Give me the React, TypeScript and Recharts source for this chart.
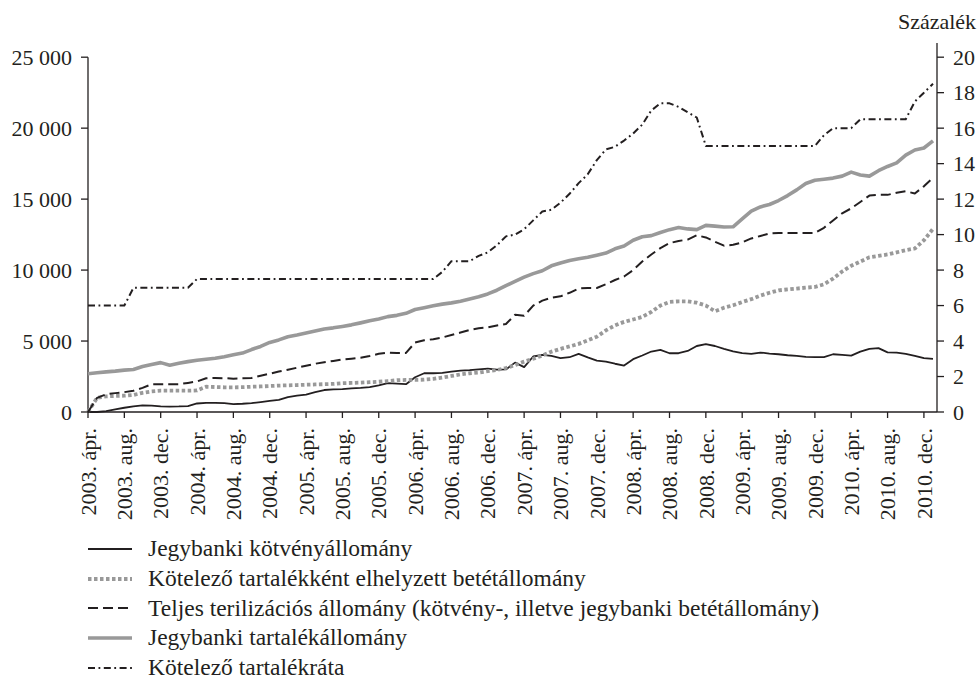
import React from "react";
import { LineChart, Line, XAxis, YAxis, Legend, ReferenceLine } from "recharts";

// hónapok: 2003. ápr. – 2011. jan.
const monthNames = ["jan.", "febr.", "márc.", "ápr.", "máj.", "jún.", "júl.", "aug.", "szept.", "okt.", "nov.", "dec."];
const firstYear = 2003;
const firstMonth = 3;
const monthCount = 94;

const months: string[] = [];
for (let i = 0; i < monthCount; i++) {
	const m = firstMonth + i;
	months.push(`${firstYear + Math.floor(m / 12)}. ${monthNames[m % 12]}`);
}

// Jegybanki kötvényállomány (mrd)
const bondStock = [
	0, 0, 60, 180, 300, 400, 470, 450, 400, 380,
	390, 420, 600, 640, 640, 620, 560, 580, 620, 700,
	780, 860, 1050, 1150, 1230, 1400, 1550, 1600, 1610, 1660,
	1700, 1760, 1880, 2030, 2000, 1960, 2450, 2730, 2730, 2760,
	2850, 2920, 2950, 3000, 3060, 2980, 3000, 3480, 3160, 3910,
	4030, 3950, 3790, 3860, 4100, 3850, 3620, 3550, 3400, 3270,
	3720, 3980, 4260, 4380, 4140, 4140, 4300, 4650, 4780, 4650,
	4450, 4280, 4150, 4100, 4190, 4120, 4070, 4000, 3950, 3880,
	3860, 3870, 4070, 4020, 3970, 4250, 4450, 4500, 4200, 4180,
	4100, 3950, 3790, 3750,
];

// Kötelező tartalékként elhelyezett betétállomány
const requiredDeposits = [
	0, 1000, 1100, 1130, 1150, 1200, 1350, 1450, 1500, 1500,
	1500, 1500, 1520, 1780, 1760, 1740, 1740, 1750, 1780, 1800,
	1830, 1860, 1880, 1900, 1920, 1940, 1960, 1980, 2030, 2050,
	2070, 2100, 2130, 2180, 2240, 2260, 2260, 2280, 2330, 2430,
	2540, 2650, 2730, 2780, 2880, 2960, 3100, 3300, 3550, 3750,
	3980, 4250, 4450, 4620, 4800, 5050, 5300, 5750, 6100, 6350,
	6520, 6700, 7050, 7500, 7750, 7800, 7800, 7700, 7500, 7100,
	7350, 7520, 7750, 7950, 8200, 8400, 8570, 8640, 8700, 8760,
	8810, 9000, 9400, 9900, 10300, 10600, 10900, 11000, 11100, 11250,
	11400, 11520, 12100, 12900,
];

// Teljes sterilizációs állomány
const sterilization = [
	0, 1000, 1250, 1330, 1400, 1500, 1700, 1950, 1950, 1950,
	1960, 2050, 2150, 2380, 2400, 2380, 2350, 2370, 2400, 2550,
	2700, 2850, 2980, 3120, 3260, 3400, 3500, 3600, 3700, 3760,
	3820, 3950, 4100, 4190, 4150, 4160, 4900, 5050, 5130, 5250,
	5420, 5600, 5780, 5900, 5960, 6100, 6200, 6850, 6780, 7490,
	7850, 8050, 8150, 8400, 8700, 8740, 8740, 9000, 9300, 9550,
	10000, 10600, 11100, 11550, 11900, 12050, 12150, 12450, 12300, 12000,
	11720, 11780, 11950, 12230, 12400, 12580, 12620, 12620, 12620, 12620,
	12620, 12980, 13500, 14000, 14350, 14800, 15250, 15300, 15300, 15450,
	15550, 15400, 15900, 16500,
];

// Jegybanki tartalékállomány
const reserves = [
	2700, 2760, 2830, 2880, 2950, 3000, 3200, 3350, 3480, 3300,
	3430, 3550, 3650, 3720, 3790, 3900, 4030, 4150, 4400, 4620,
	4900, 5080, 5300, 5420, 5560, 5700, 5850, 5930, 6030, 6140,
	6280, 6430, 6550, 6720, 6810, 6950, 7220, 7350, 7480, 7600,
	7690, 7810, 7970, 8120, 8320, 8580, 8900, 9200, 9500, 9750,
	9950, 10300, 10500, 10680, 10800, 10900, 11050, 11200, 11500, 11700,
	12100, 12350, 12430, 12650, 12850, 13000, 12900, 12850, 13150, 13100,
	13040, 13050, 13600, 14150, 14450, 14620, 14900, 15250, 15650, 16100,
	16330, 16400, 16480, 16620, 16900, 16700, 16620, 17000, 17300, 17550,
	18100, 18460, 18600, 19100,
];

// Kötelező tartalékráta (%)
const reserveRatio = [
	6, 6, 6, 6, 6, 7, 7, 7, 7, 7,
	7, 7, 7.5, 7.5, 7.5, 7.5, 7.5, 7.5, 7.5, 7.5,
	7.5, 7.5, 7.5, 7.5, 7.5, 7.5, 7.5, 7.5, 7.5, 7.5,
	7.5, 7.5, 7.5, 7.5, 7.5, 7.5, 7.5, 7.5, 7.5, 7.9,
	8.5, 8.5, 8.5, 8.8, 9, 9.4, 9.9, 10, 10.3, 10.8,
	11.3, 11.4, 11.8, 12.3, 12.9, 13.4, 14.2, 14.8, 14.95, 15.3,
	15.7, 16.2, 17, 17.4, 17.4, 17.2, 16.9, 16.6, 15, 15,
	15, 15, 15, 15, 15, 15, 15, 15, 15, 15,
	15, 15.6, 16, 16, 16, 16.5, 16.5, 16.5, 16.5, 16.5,
	16.5, 17.5, 18, 18.5,
];

const leftTicks = [0, 5000, 10000, 15000, 20000, 25000];
const rightTicks = [0, 2, 4, 6, 8, 10, 12, 14, 16, 18, 20];

const data = months.map((month, i) => ({
	month,
	bondStock: bondStock[i],
	requiredDeposits: requiredDeposits[i],
	sterilization: sterilization[i],
	reserves: reserves[i],
	reserveRatio: reserveRatio[i],
}));

const INK = "#231f20";
const GREY = "#999999";
const FONT = "'Liberation Serif', 'Times New Roman', serif";
const FONT_SIZE = 22;
const LEGEND_FONT_SIZE = 23.5;

const series = [
	{ key: "bondStock", name: "Jegybanki kötvényállomány", color: INK, width: 1.8, dash: undefined, axis: "left" },
	{ key: "requiredDeposits", name: "Kötelező tartalékként elhelyzett betétállomány", color: GREY, width: 3.8, dash: "3.5 2.5", axis: "left" },
	{ key: "sterilization", name: "Teljes terilizációs állomány (kötvény-, illetve jegybanki betétállomány)", color: INK, width: 2, dash: "10 5", axis: "left" },
	{ key: "reserves", name: "Jegybanki tartalékállomány", color: GREY, width: 3.6, dash: undefined, axis: "left" },
	{ key: "reserveRatio", name: "Kötelező tartalékráta", color: INK, width: 2, dash: "7 3.5 1.8 3.5", axis: "right" },
];

const formatThousands = (v: number) => String(v).replace(/\B(?=(\d{3})+(?!\d))/g, " ");

const MonthTick = (props: any) => {
	const { x, y, payload } = props;
	return (
		<text
			x={x}
			y={y}
			dy="0.35em"
			transform={`rotate(-90, ${x}, ${y})`}
			textAnchor="end"
			fill={INK}
			fontFamily={FONT}
			fontSize={FONT_SIZE}
		>
			{payload.value}
		</text>
	);
};

const LegendBox = () => (
	<div style={{ fontFamily: FONT, fontSize: LEGEND_FONT_SIZE, color: INK, lineHeight: "29.75px" }}>
		{series.map((s) => (
			<div key={s.key} style={{ display: "flex", alignItems: "center", height: 29.75 }}>
				<svg width={44} height={30} style={{ display: "block" }}>
					<line
						x1={0}
						y1={15}
						x2={44}
						y2={15}
						stroke={s.color}
						strokeWidth={s.width}
						strokeDasharray={s.dash}
					/>
				</svg>
				<span style={{ marginLeft: 16, whiteSpace: "nowrap" }}>{s.name}</span>
			</div>
		))}
	</div>
);

export default function App() {
	return (
		<div style={{ position: "absolute", left: 0, top: 0, width: 980, height: 684, background: "#fff" }}>
			<LineChart width={980} height={684} data={data} margin={{ top: 43, right: 0, bottom: 152, left: 0 }}>
				<XAxis
					dataKey="month"
					interval={3}
					height={120}
					tick={<MonthTick />}
					tickSize={6}
					tickMargin={10}
					padding={{ left: 0, right: 4 }}
					axisLine={{ stroke: INK, strokeWidth: 1.3 }}
					tickLine={{ stroke: INK, strokeWidth: 1.3 }}
				/>
				<YAxis
					yAxisId="left"
					orientation="left"
					width={88}
					domain={[0, 26000]}
					ticks={leftTicks}
					tickFormatter={formatThousands}
					tickSize={7}
					tickMargin={9}
					axisLine={false}
					tickLine={{ stroke: INK, strokeWidth: 1.3 }}
					tick={{ fill: INK, fontFamily: FONT, fontSize: FONT_SIZE }}
				/>
				<YAxis
					yAxisId="right"
					orientation="right"
					width={43}
					domain={[0, 20.8]}
					ticks={rightTicks}
					tickSize={7}
					tickMargin={9}
					axisLine={{ stroke: INK, strokeWidth: 1.3 }}
					tickLine={{ stroke: INK, strokeWidth: 1.3 }}
					tick={{ fill: INK, fontFamily: FONT, fontSize: FONT_SIZE, textAnchor: "start" }}
					label={(props: any) => {
						const vb = props.viewBox || { x: 937, y: 43 };
						return (
							<text x={vb.x} y={vb.y - 14} textAnchor="middle" fill={INK} fontFamily={FONT} fontSize={FONT_SIZE}>
								Százalék
							</text>
						);
					}}
				/>
				<ReferenceLine
					yAxisId="left"
					segment={[{ x: months[0], y: 0 }, { x: months[0], y: 25000 }]}
					stroke={INK}
					strokeWidth={1.3}
				/>
				{series.map((s) => (
					<Line
						key={s.key}
						yAxisId={s.axis}
						dataKey={s.key}
						name={s.name}
						type="linear"
						stroke={s.color}
						strokeWidth={s.width}
						strokeDasharray={s.dash}
						strokeLinejoin="round"
						dot={false}
						activeDot={false}
						isAnimationActive={false}
					/>
				))}
				<Legend
					layout="vertical"
					align="center"
					verticalAlign="middle"
					content={<LegendBox />}
					wrapperStyle={{ top: 534, left: 88, width: 860, height: 150 }}
				/>
			</LineChart>
		</div>
	);
}
